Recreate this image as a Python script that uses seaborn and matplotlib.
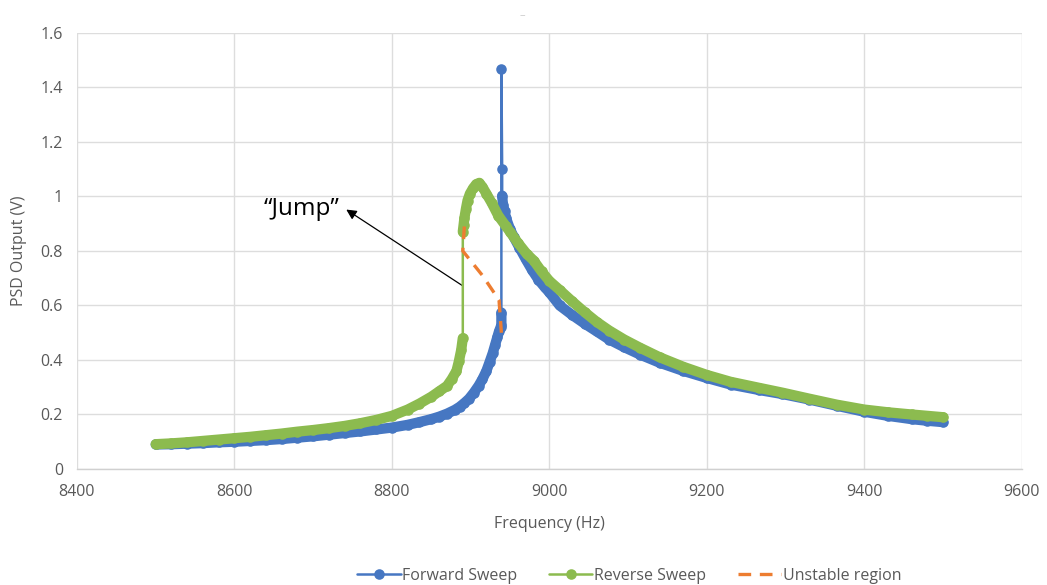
import numpy as np
import pandas as pd
import seaborn as sns
import matplotlib
matplotlib.use("Agg")
import matplotlib.pyplot as plt
from matplotlib.lines import Line2D
from matplotlib.ticker import FuncFormatter

# Forward sweep (increasing frequency), Hz / V
fwd_freq = [8500, 8520, 8540, 8560, 8580, 8600, 8620, 8640, 8660, 8680,
            8700, 8720, 8740, 8760, 8780, 8800, 8820, 8835, 8850, 8860,
            8870, 8880, 8886, 8892, 8898, 8904, 8910, 8915, 8920, 8924,
            8928, 8931, 8934, 8936, 8938, 8939, 8939, 8939, 8940, 8940,
            8941, 8943, 8945, 8950, 8955, 8962, 8970, 8978, 8986, 8994,
            9000, 9013, 9029, 9045, 9060, 9076, 9095, 9115, 9140, 9170,
            9200, 9230, 9266, 9296, 9330, 9365, 9400, 9430, 9460, 9480, 9500]
fwd_psd = [0.090, 0.091, 0.093, 0.095, 0.098, 0.100, 0.103, 0.106, 0.110, 0.115,
           0.120, 0.126, 0.132, 0.138, 0.145, 0.152, 0.162, 0.172, 0.183, 0.192,
           0.203, 0.217, 0.228, 0.242, 0.258, 0.280, 0.305, 0.330, 0.360, 0.392,
           0.425, 0.455, 0.485, 0.505, 0.520, 0.530, 0.574, 1.468, 1.101, 1.003,
           0.970, 0.945, 0.920, 0.880, 0.850, 0.812, 0.770, 0.730, 0.695, 0.667,
           0.648, 0.600, 0.565, 0.533, 0.505, 0.475, 0.447, 0.420, 0.390, 0.360,
           0.334, 0.310, 0.290, 0.275, 0.255, 0.232, 0.210, 0.195, 0.183, 0.177, 0.172]

# Reverse sweep (decreasing frequency), Hz / V
rev_freq = [9500, 9480, 9460, 9430, 9400, 9365, 9330, 9296, 9266, 9230,
            9200, 9170, 9140, 9115, 9095, 9076, 9060, 9045, 9029, 9013,
            9000, 8990, 8980, 8971, 8960, 8950, 8945, 8935, 8927, 8920,
            8915, 8911, 8907, 8903, 8899, 8896, 8894, 8892, 8891, 8890,
            8890, 8888, 8885, 8882, 8876, 8870, 8860, 8850, 8835, 8820,
            8800, 8780, 8760, 8740, 8720, 8700, 8680, 8660, 8640, 8620,
            8600, 8580, 8560, 8540, 8520, 8500]
rev_psd = [0.190, 0.195, 0.200, 0.208, 0.218, 0.236, 0.258, 0.280, 0.298, 0.320,
           0.345, 0.375, 0.410, 0.445, 0.475, 0.508, 0.540, 0.575, 0.615, 0.657,
           0.690, 0.725, 0.765, 0.790, 0.830, 0.870, 0.890, 0.930, 0.975, 1.010,
           1.035, 1.050, 1.045, 1.030, 1.010, 0.985, 0.955, 0.920, 0.895, 0.871,
           0.480, 0.437, 0.395, 0.360, 0.330, 0.305, 0.285, 0.265, 0.240, 0.218,
           0.195, 0.180, 0.168, 0.158, 0.150, 0.143, 0.137, 0.130, 0.124, 0.118,
           0.113, 0.108, 0.103, 0.098, 0.094, 0.091]

# Unstable branch linking the two jumps
unst_freq = [8892, 8890, 8915, 8936, 8939]
unst_psd = [0.89, 0.80, 0.71, 0.62, 0.50]

x_ticks = [8400, 8600, 8800, 9000, 9200, 9400, 9600]
y_ticks = [0, 0.2, 0.4, 0.6, 0.8, 1.0, 1.2, 1.4, 1.6]

BLUE = "#4677C2"
GREEN = "#8CBB4F"
ORANGE = "#ED7D31"
GRID = "#DDDDDD"
TEXT = "#595959"

sns.set_theme(style="white")
plt.rcParams["font.family"] = ["Open Sans", "DejaVu Sans"]

fig = plt.figure(figsize=(10.47, 5.85), dpi=100)
ax = fig.add_axes([0.0735, 0.1983, 0.9025, 0.7453])

MS = 7.6   # marker size (pt)
BW = 7.4   # width of the densely sampled band (pt)


def band(freq, psd, thresh=0.06):
    """Split a sweep into its densely sampled runs (NaN at large jumps)."""
    xs, ys = [freq[0]], [psd[0]]
    for i in range(1, len(freq)):
        if abs(psd[i] - psd[i - 1]) > thresh:
            xs.append(np.nan)
            ys.append(np.nan)
        xs.append(freq[i])
        ys.append(psd[i])
    return xs, ys


def draw_sweep(freq, psd, color, z):
    bx, by = band(freq, psd)
    ax.plot(bx, by, color=color, lw=BW, solid_capstyle="round",
            solid_joinstyle="round", zorder=z)
    sns.lineplot(x=freq, y=psd, sort=False, estimator=None, ax=ax,
                 color=color, lw=1.8, marker="o", markersize=MS,
                 markeredgewidth=0, zorder=z + 0.1)


draw_sweep(fwd_freq, fwd_psd, BLUE, 3)
draw_sweep(rev_freq, rev_psd, GREEN, 4)
sns.lineplot(x=unst_freq, y=unst_psd, sort=False, estimator=None, ax=ax,
             color=ORANGE, lw=2.4, zorder=5)
ax.lines[-1].set_dashes([3.8, 2.6])

ax.set_xlim(8400, 9600)
ax.set_ylim(0, 1.6)
ax.set_xticks(x_ticks)
ax.set_yticks(y_ticks)
ax.yaxis.set_major_formatter(FuncFormatter(lambda v, p: f"{v:g}"))
ax.tick_params(axis="both", length=0, labelsize=11.5, labelcolor=TEXT)
ax.tick_params(axis="x", pad=11)
ax.tick_params(axis="y", pad=10)
ax.grid(True, color=GRID, lw=1.0)
ax.set_axisbelow(True)
for s in ["top", "right", "left"]:
    ax.spines[s].set_visible(False)
ax.spines["bottom"].set_color("#D0D0D0")
ax.spines["bottom"].set_linewidth(1.0)

ax.set_xlabel("Frequency (Hz)", fontsize=11.5, color=TEXT, labelpad=11)
ax.set_ylabel("PSD Output (V)", fontsize=11.5, color=TEXT, labelpad=10)

ax.annotate("\u201cJump\u201d", xy=(8740, 0.95), xytext=(8733, 0.955),
            fontsize=17.5, color="black", ha="right", va="center")
ax.annotate("", xy=(8742, 0.952), xytext=(8890, 0.672),
            arrowprops=dict(arrowstyle="-|>", color="black", lw=0.9,
                            mutation_scale=15, shrinkA=0, shrinkB=0))

fig.text(0.499, 0.973, "\u2013", color="#C8C8C8", fontsize=8,
         ha="center", va="center")

handles = [
    Line2D([], [], color=BLUE, lw=1.8, marker="o", markersize=MS,
           markeredgewidth=0),
    Line2D([], [], color=GREEN, lw=1.8, marker="o", markersize=MS,
           markeredgewidth=0),
    Line2D([], [], color=ORANGE, lw=2.4, dashes=[3.8, 2.6]),
]
fig.legend(handles, ["Forward Sweep", "Reverse Sweep", "Unstable region"],
           loc="center", bbox_to_anchor=(0.601, 0.016), ncol=3, frameon=False,
           fontsize=11.5, labelcolor=TEXT, handlelength=2.7, handletextpad=0.1,
           columnspacing=2.0)

fig.savefig("out.png", dpi=100)
